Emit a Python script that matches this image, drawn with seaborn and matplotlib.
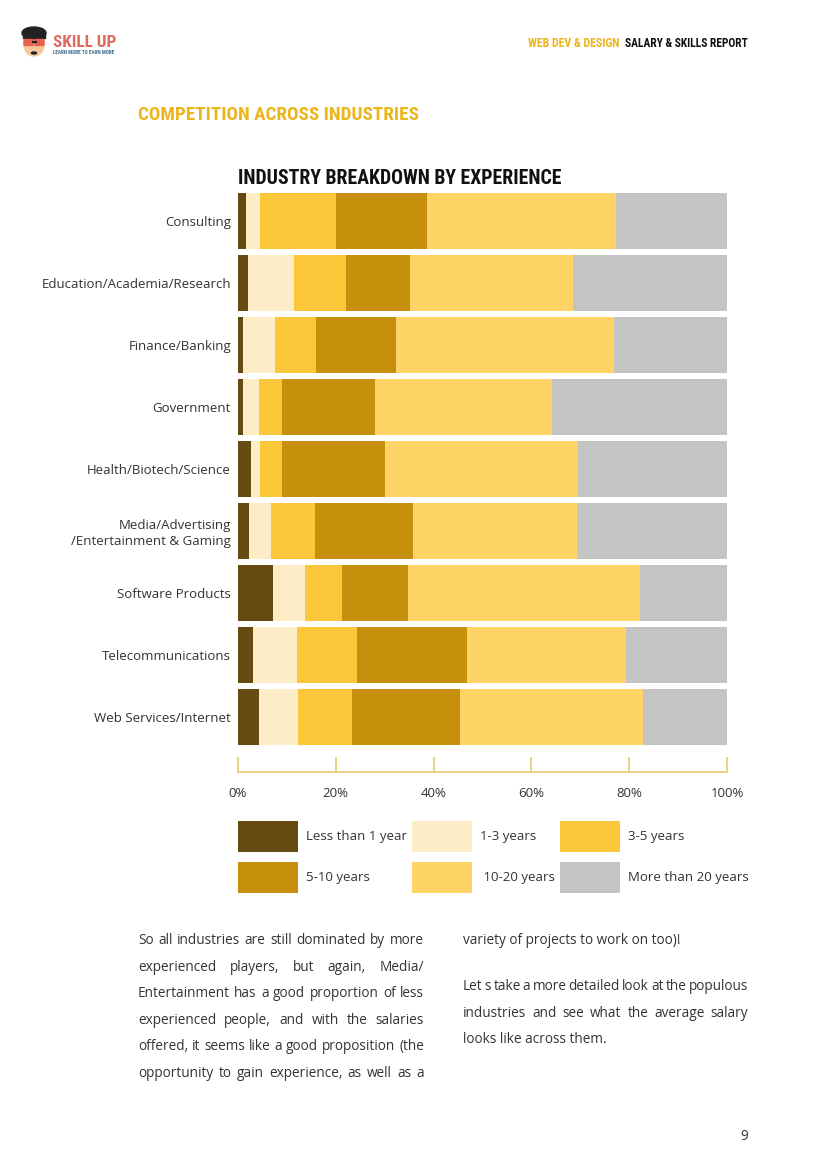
import matplotlib
matplotlib.use("Agg")
import matplotlib.pyplot as plt
import seaborn as sns
import numpy as np
import pandas as pd
from matplotlib import font_manager
from matplotlib.patches import Patch, Ellipse, FancyBboxPatch, Rectangle

# ---------------- data ----------------
industries = ["Consulting", "Education/Academia/Research", "Finance/Banking", "Government",
              "Health/Biotech/Science", "Media/Advertising\n/Entertainment & Gaming",
              "Software Products", "Telecommunications", "Web Services/Internet"]
series_names = ["Less than 1 year", "1-3 years", "3-5 years", "5-10 years", "10-20 years",
                "More than 20 years"]
legend_labels = ["Less than 1 year", "1-3 years", "3-5 years", "5-10 years", " 10-20 years",
                 "More than 20 years"]
less_than_1 = [1.6, 2.0, 1.1, 1.0, 2.6, 2.2, 7.2, 3.0, 4.2]
years_1_3 = [2.9, 9.5, 6.5, 3.3, 2.0, 4.6, 6.6, 9.1, 8.1]
years_3_5 = [15.6, 10.6, 8.4, 4.7, 4.4, 9.0, 7.5, 12.3, 11.1]
years_5_10 = [18.5, 13.1, 16.3, 19.1, 21.0, 20.0, 13.5, 22.4, 21.9]
years_10_20 = [38.7, 33.4, 44.5, 36.2, 39.5, 33.5, 47.4, 32.5, 37.5]
more_than_20 = [22.7, 31.4, 23.2, 35.7, 30.5, 30.7, 17.8, 20.7, 17.2]
colors = ["#654a12", "#fdedc6", "#fcc63b", "#c68f0c", "#fdd465", "#c4c4c4"]
x_ticks = [0, 20, 40, 60, 80, 100]
x_tick_labels = ["0%", "20%", "40%", "60%", "80%", "100%"]

W, H = 826, 1169
GOLD = "#ecb51c"

sns.set_theme(style="white")
avail = {f.name for f in font_manager.fontManager.ttflist}
body_font = "Open Sans" if "Open Sans" in avail else "DejaVu Sans"
plt.rcParams["font.family"] = [body_font, "DejaVu Sans"]

# condensed heading font
cond_kw = {}
for cand in ["Liberation Sans Narrow", "Roboto Condensed", "Open Sans Condensed", "DejaVu Sans Condensed"]:
    if cand in avail:
        cond_kw = {"family": [cand, "DejaVu Sans"]}
        break
if not cond_kw:
    if any(f.name == "DejaVu Sans" and "condensed" in str(f.stretch) for f in font_manager.fontManager.ttflist):
        cond_kw = {"family": ["DejaVu Sans"], "fontstretch": "condensed"}
    else:
        cond_kw = {"family": ["Roboto", "DejaVu Sans"]}

fig = plt.figure(figsize=(W / 100, H / 100), dpi=100)
fig.patch.set_facecolor("white")
renderer = fig.canvas.get_renderer()


def fx(px):
    return px / W


def fy(py):
    return 1 - py / H


def fit_text(s, x, y, width, ha="left", size0=20, **kw):
    t = fig.text(fx(x), fy(y), s, ha=ha, va="baseline", fontsize=size0, **kw)
    w = t.get_window_extent(renderer).width
    t.set_fontsize(size0 * width / w)
    return t


# ---------------- chart ----------------
ax = fig.add_axes([fx(238), fy(772), 489 / W, 582 / H])
data = [less_than_1, years_1_3, years_3_5, years_5_10, years_10_20, more_than_20]
df = pd.DataFrame({name: vals for name, vals in zip(series_names, data)})
df["industry"] = industries
cum = df[series_names].cumsum(axis=1)
cum["industry"] = industries
for name, col in reversed(list(zip(series_names, colors))):
    sns.barplot(data=cum, x=name, y="industry", color=col, width=0.9, saturation=1,
                errorbar=None, orient="h", ax=ax, linewidth=0)

ax.set_xlim(0, 100)
ax.set_ylim(len(industries) - 1 + 55 / 62, -0.5)
ax.set_xlabel("")
ax.set_ylabel("")
for sp in ["left", "top", "right"]:
    ax.spines[sp].set_visible(False)
ax.spines["bottom"].set_color("#e8c872")
ax.spines["bottom"].set_linewidth(1.2)
ax.set_xticks(x_ticks)
ax.set_xticklabels(x_tick_labels)
ax.tick_params(axis="x", bottom=True, direction="in", length=11, width=1.2, color="#e8c872",
               pad=11, labelsize=9.5, labelcolor="#333333")
ax.tick_params(axis="y", left=False, length=0, pad=5, labelsize=9.5, labelcolor="#333333")

# legend
handles = [Patch(facecolor=c, edgecolor="none") for c in colors]
order = [0, 3, 1, 4, 2, 5]
fs = 9.5
fs_px = fs * 100 / 72
box_h = 31
hh = (box_h / fs_px - 0.245) / 0.65
fig.legend([handles[i] for i in order], [legend_labels[i] for i in order], ncol=3,
           loc="upper left", bbox_to_anchor=(fx(238), fy(821)), frameon=False,
           fontsize=fs, handlelength=60 / fs_px, handleheight=hh,
           handletextpad=8 / fs_px, columnspacing=5 / fs_px, labelspacing=10 / fs_px,
           borderpad=0, borderaxespad=0, labelcolor="#333333")

# ---------------- headings ----------------
fit_text("INDUSTRY BREAKDOWN BY EXPERIENCE", 238, 184, 324, color="#111111",
         fontweight="bold", **cond_kw)
fit_text("COMPETITION ACROSS INDUSTRIES", 138, 120, 281, color=GOLD, fontweight="bold", **cond_kw)
fit_text("WEB DEV & DESIGN", 528, 47, 92, color=GOLD, fontweight="bold", **cond_kw)
fit_text("SALARY & SKILLS REPORT", 748, 47, 124, ha="right", color="#111111",
         fontweight="bold", **cond_kw)
fit_text("SKILL UP", 53, 47, 63, color="#e06a5f", fontweight="bold", **cond_kw)
fit_text("LEARN MORE TO EARN MORE", 53, 54.5, 63, color="#3f6f8c", fontweight="bold", **cond_kw)

# logo face
lax = fig.add_axes([fx(19), fy(58), 30 / W, 32 / H])
lax.set_xlim(0, 30)
lax.set_ylim(0, 32)
lax.axis("off")
lax.add_patch(Ellipse((15, 13), 20, 22, color="#f4c89a"))
lax.add_patch(Ellipse((15, 25), 24, 12, color="#222222"))
lax.add_patch(Rectangle((4, 20), 22, 5, color="#222222"))
lax.add_patch(FancyBboxPatch((5.5, 13), 8, 5, boxstyle="round,pad=0.5", color="#e8604f"))
lax.add_patch(FancyBboxPatch((16.5, 13), 8, 5, boxstyle="round,pad=0.5", color="#e8604f"))
lax.add_patch(Rectangle((13, 16), 4, 1, color="#222222"))
lax.add_patch(Ellipse((15, 5), 5, 2, color="#222222"))

# ---------------- body text ----------------
body_kw = dict(fontsize=9.8, color="#333333", family=[body_font, "DejaVu Sans"])


def put_line(s, x0, x1, yc, justify):
    yb = yc + 4
    if not justify:
        fig.text(fx(x0), fy(yb), s, ha="left", va="baseline", **body_kw)
        return
    words = s.split()
    ts = [fig.text(0, fy(yb), w, ha="left", va="baseline", **body_kw) for w in words]
    ws = [t.get_window_extent(renderer).width for t in ts]
    gap = (x1 - x0 - sum(ws)) / (len(words) - 1)
    x = x0
    for t, w in zip(ts, ws):
        t.set_x(fx(x))
        x += w + gap


left_lines = ["So all industries are still dominated by more",
              "experienced players, but again, Media/",
              "Entertainment has a good proportion of less",
              "experienced people, and with the salaries",
              "offered, it seems like a good proposition (the",
              "opportunity to gain experience, as well as a"]
left_y = [940, 967, 993, 1020, 1046, 1073]
for s, y in zip(left_lines, left_y):
    put_line(s, 138, 424, y, True)

right_lines = ["variety of projects to work on too)!",
               "Let s take a more detailed look at the populous",
               "industries and see what the average salary",
               "looks like across them."]
right_y = [940, 986, 1013, 1039]
right_just = [False, True, True, False]
for s, y, j in zip(right_lines, right_y, right_just):
    put_line(s, 463, 748, y, j)

fig.text(fx(748), fy(1140), "9", ha="right", va="baseline", **body_kw)

fig.savefig("out.png", dpi=100, facecolor="white")
